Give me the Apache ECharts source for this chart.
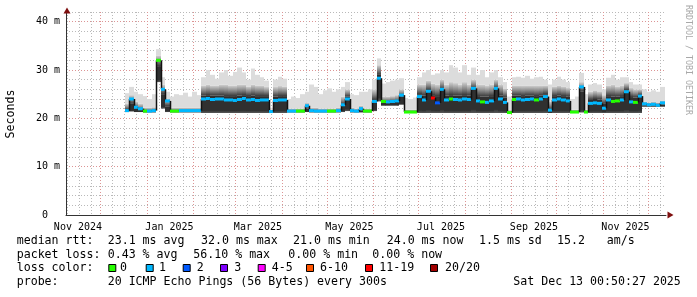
<!DOCTYPE html>
<html><head><meta charset="utf-8">
<script src="https://cdn.jsdelivr.net/npm/echarts@6/dist/echarts.min.js"></script>
<style>html,body{margin:0;padding:0;background:#fff;}#c{width:697px;height:297px;}</style>
</head><body><div id="c"></div>
<script>
// ---- time frame ----
const DAY = 86400000;
const chartEnd = Date.UTC(2025, 11, 13, 0, 50, 27);
const chartStart = chartEnd - 400 * DAY;
const firstBinStart = chartStart + 39 * DAY;   // Dec 17 2024
const binDays = 3;

// ---- tick labels ----
const MONTHS = ['Jan','Feb','Mar','Apr','May','Jun','Jul','Aug','Sep','Oct','Nov','Dec'];
const xLabelMonths = [[2024,10],[2025,0],[2025,2],[2025,4],[2025,6],[2025,8],[2025,10]];
const yMajorTicks = [0, 10, 20, 30, 40];

// ---- data (one value per 3-day bin) ----
const median = [
 21.6,24.0,22.3,22.0,21.5,21.5,21.6,32.0,26.0,23.6,
 21.5,21.5,21.6,21.6,21.6,21.6,21.6,24.0,24.1,23.9,
 24.0,24.0,23.8,23.8,23.7,23.9,24.1,23.8,23.9,23.7,
 23.8,23.8,21.4,23.7,23.8,23.8,21.5,21.5,21.5,21.5,
 22.6,21.6,21.5,21.5,21.5,21.5,21.5,21.6,22.8,24.0,
 21.6,21.5,22.0,21.5,21.5,23.5,28.3,23.5,23.4,23.5,
 23.6,24.8,21.3,21.3,21.3,24.5,23.8,25.6,24.2,23.2,
 26.0,23.8,24.0,23.9,23.8,24.0,23.9,26.2,23.6,23.4,
 23.3,23.6,26.2,24.0,23.3,21.2,23.9,24.0,23.8,23.9,
 24.0,23.8,24.0,24.5,21.7,23.8,24.0,23.8,23.6,21.3,
 21.3,26.5,21.3,23.1,23.2,23.1,22.1,23.8,23.5,23.6,
 23.8,25.5,23.4,23.3,24.6,23.0,22.8,22.9,22.7,23.2];
const lossCount = [
 1,1,1,1,0,1,1,0,1,1,
 0,0,1,1,1,1,1,1,1,1,
 1,1,1,1,1,1,1,1,1,1,
 1,1,1,1,1,1,1,1,0,0,
 1,1,1,1,1,0,0,1,1,1,
 1,1,1,0,0,1,1,0,1,1,
 1,1,0,0,0,1,1,1,12,2,
 1,1,0,1,1,1,1,1,1,0,
 1,1,1,1,1,0,0,1,1,1,
 1,0,1,1,1,1,1,1,1,0,
 0,1,0,1,1,1,1,1,0,0,
 1,1,1,0,1,1,1,1,1,1];
const pingMin = [
 21.3,21.4,21.3,21.3,21.2,21.2,21.2,27.5,22.0,21.3,
 21.2,21.2,21.2,21.2,21.2,21.2,21.2,21.1,21.1,21.1,
 21.1,21.1,21.1,21.1,21.1,21.1,21.1,21.1,21.1,21.1,
 21.1,21.1,21.2,21.1,21.1,21.1,21.2,21.2,21.2,21.2,
 21.3,21.2,21.2,21.2,21.2,21.2,21.2,21.2,21.3,21.5,
 21.2,21.2,21.2,21.2,21.2,21.5,23.5,22.6,22.6,22.6,
 22.6,22.8,21.1,21.1,21.1,21.1,21.1,21.1,21.1,21.1,
 21.1,21.1,21.1,21.1,21.1,21.1,21.1,21.1,21.1,21.1,
 21.1,21.1,21.1,21.1,21.1,21.0,21.1,21.1,21.1,21.1,
 21.1,21.1,21.1,21.1,21.1,21.1,21.1,21.1,21.1,21.1,
 21.1,21.2,21.1,21.1,21.1,21.1,21.1,21.1,21.1,21.1,
 21.1,21.1,21.1,21.1,21.1,22.4,22.4,22.4,22.4,22.4];
const darkTop = [
 21.7,23.0,22.0,21.7,21.4,21.4,21.4,30.8,25.0,22.5,
 21.4,21.4,21.4,21.4,21.4,21.4,21.4,24.7,24.8,24.7,
 24.7,24.7,24.6,24.6,24.6,24.7,24.8,24.6,24.7,24.6,
 24.6,24.6,21.4,24.5,24.6,24.6,21.4,21.4,21.4,21.4,
 22.0,21.4,21.4,21.4,21.4,21.4,21.4,21.4,22.8,24.5,
 21.4,21.4,21.6,21.4,21.4,23.8,29.0,23.2,23.2,23.3,
 23.4,24.5,21.3,21.3,21.3,25.0,24.7,25.8,24.8,24.6,
 26.0,24.7,24.8,24.7,24.7,24.8,24.7,26.2,24.6,24.5,
 24.5,24.6,26.2,24.7,24.3,21.2,24.7,24.7,24.6,24.7,
 24.7,24.6,24.7,25.0,21.8,24.6,24.7,24.6,24.5,21.3,
 21.3,25.5,21.3,23.8,24.0,23.9,23.0,24.6,24.5,24.5,
 24.6,25.8,24.4,24.3,24.8,22.7,22.6,22.7,22.6,22.8];
const fadeTop = [
 23.0,24.8,23.5,23.0,22.2,22.2,22.3,33.0,27.0,24.0,
 22.2,22.2,22.2,22.2,22.2,22.2,22.2,26.8,27.0,26.8,
 26.8,27.0,27.0,26.8,26.8,27.0,27.0,26.6,27.0,26.8,
 26.8,26.5,21.8,26.5,26.7,26.6,22.0,22.0,22.0,22.0,
 23.2,22.2,22.2,22.0,22.0,22.0,22.0,22.2,24.5,26.0,
 22.2,22.0,22.6,22.0,22.0,26.0,31.0,24.5,24.5,24.6,
 24.8,26.0,21.8,21.8,21.8,27.0,27.0,27.8,27.2,27.0,
 28.0,27.0,27.5,27.3,27.0,27.5,27.0,28.0,27.0,27.0,
 26.8,27.0,28.0,27.0,26.2,21.7,26.8,26.8,26.8,26.8,
 26.8,26.8,26.8,26.8,23.5,26.6,26.8,26.6,26.3,21.8,
 21.8,27.5,21.8,25.5,25.8,25.6,24.8,26.8,27.0,26.6,
 26.8,27.3,26.3,26.0,26.0,23.4,23.3,23.4,23.3,23.6];
const pingMax = [
 25.2,26.5,25.5,25.0,24.6,24.0,25.0,34.3,28.5,25.5,
 24.5,25.0,24.8,25.3,24.5,25.5,24.8,28.5,30.0,29.0,
 28.2,29.5,30.0,28.8,29.6,30.5,29.5,28.0,30.3,29.0,
 28.5,27.8,22.2,28.0,28.6,28.2,24.0,24.5,24.2,25.0,
 25.5,27.0,26.5,25.0,25.8,26.2,25.5,26.0,26.5,27.5,
 25.0,24.8,25.5,25.5,26.0,28.0,32.4,27.2,27.5,27.8,
 28.0,28.3,24.2,24.0,24.3,28.5,29.5,30.0,29.0,29.3,
 30.0,29.5,31.0,30.5,29.5,31.0,29.0,30.5,29.0,30.0,
 28.5,29.5,30.0,28.5,27.5,24.5,28.5,28.6,28.4,28.8,
 28.2,28.5,28.6,28.0,27.0,28.0,28.6,28.0,27.5,24.0,
 24.5,29.4,25.0,27.0,27.3,27.0,26.0,28.4,29.0,28.0,
 28.5,28.5,27.5,27.0,27.0,26.0,25.5,25.8,25.5,26.5];

// ---- legend texts ----
const legendRows = [
 [['median rtt:',16.7],['23.1 ms avg',107.7],['32.0 ms max',201],['21.0 ms min',293],['24.0 ms now',386.7],['1.5 ms sd',479],['15.2',557],['am/s',606.7]],
 [['packet loss:',16.7],['0.43 % avg',107.7],['56.10 % max',193.3],['0.00 % min',288.3],['0.00 % now',372.3]],
 [['loss color:',16.7]],
 [['probe:',16.7],['20 ICMP Echo Pings (56 Bytes) every 300s',107.7],['Sat Dec 13 00:50:27 2025',513.3]]
];
const lossLegend = [
 ['0','#26ff00',108.3,120],['1','#00b8ff',145.7,159],['2','#0059ff',182.7,196.7],['3','#7e00ff',220,234.3],
 ['4-5','#ff00ff',257.7,271.7],['6-10','#ff5500',306,320],['11-19','#ff0000',365,379.3],['20/20','#a00000',430,445]
];
function lossColor(n){
  if (n <= 0) return '#26ff00';
  if (n <= 1) return '#00b8ff';
  if (n <= 2) return '#0059ff';
  if (n <= 3) return '#7e00ff';
  if (n <= 5) return '#ff00ff';
  if (n <= 10) return '#ff5500';
  if (n <= 19) return '#ff0000';
  return '#a00000';
}

// ---- axis tick positions ----
const monthStarts = [], minorTicks = [];
for (let y = 2024, m = 9; y < 2026; ) {
  const t = Date.UTC(y, m, 1);
  if (t >= chartStart && t <= chartEnd) monthStarts.push(t);
  [8, 16, 24].forEach(d => { const tt = t + d * DAY; if (tt > chartStart && tt < chartEnd) minorTicks.push(tt); });
  m++; if (m > 11) { m = 0; y++; }
}
const xLabelTicks = xLabelMonths.map(([y, m]) => Date.UTC(y, m, 16));

const binTime = i => firstBinStart + i * binDays * DAY;
const smokeData = median.map((_, i) => [binTime(i), pingMin[i], darkTop[i], fadeTop[i], pingMax[i]]);
const medianData = median.map((v, i) => [binTime(i), v, lossCount[i], i > 0 ? median[i - 1] : v]);

const MONO = '"DejaVu Sans Mono", monospace';
const GRID_MINOR = '#b9b9b9', GRID_MAJOR = '#dc9494';

function renderSmoke(params, api) {
  const t = api.value(0);
  const xa = Math.round(api.coord([t, 0])[0]);
  const xb = Math.round(api.coord([t + binDays * DAY, 0])[0]);
  const w = xb - xa;
  const yMin = api.coord([t, api.value(1)])[1];
  const yDark = api.coord([t, api.value(2)])[1];
  const yFade = api.coord([t, api.value(3)])[1];
  const yMax = api.coord([t, api.value(4)])[1];
  return { type: 'group', children: [
    { type: 'rect', shape: { x: xa, y: yMax, width: w, height: Math.max(0, yFade - yMax) }, style: { fill: '#dcdcdc' } },
    { type: 'rect', shape: { x: xa, y: yFade, width: w, height: Math.max(0, yDark - yFade) },
      style: { fill: new echarts.graphic.LinearGradient(0, 0, 0, 1, [{ offset: 0, color: '#d2d2d2' }, { offset: 0.5, color: '#8a8a8a' }, { offset: 1, color: '#383838' }]) } },
    { type: 'rect', shape: { x: xa, y: yDark, width: w, height: Math.max(0, yMin - yDark) },
      style: { fill: new echarts.graphic.LinearGradient(0, 0, 0, 1, [{ offset: 0, color: '#303030' }, { offset: 0.85, color: '#303030' }, { offset: 1, color: '#5a5a5a' }]) } }
  ]};
}
function renderMedian(params, api) {
  const t = api.value(0);
  const xa = Math.round(api.coord([t, 0])[0]);
  const xb = Math.round(api.coord([t + binDays * DAY, 0])[0]);
  const y = api.coord([t, api.value(1)])[1];
  const yPrev = api.coord([t, api.value(3)])[1];
  return { type: 'group', children: [
    { type: 'line', shape: { x1: xa + 0.5, y1: yPrev, x2: xa + 0.5, y2: y }, style: { stroke: '#111', lineWidth: 1.5 } },
    { type: 'rect', shape: { x: xa, y: y - 1.5, width: xb - xa, height: 3 }, style: { fill: lossColor(api.value(2)) } }
  ]};
}

const graphics = [];
legendRows.forEach((row, r) => {
  const yy = [240.8, 254.5, 268, 281.7][r];
  row.forEach(([txt, x]) => graphics.push({ type: 'text', x: x, y: yy, style: { text: txt, font: '11.6px ' + MONO, fill: '#000', verticalAlign: 'middle', textVerticalAlign: 'middle' } }));
});
lossLegend.forEach(([txt, col, bx, tx]) => {
  graphics.push({ type: 'rect', shape: { x: bx + 0.5, y: 264.5, width: 7, height: 7 }, style: { fill: col, stroke: '#000', lineWidth: 1 } });
  graphics.push({ type: 'text', x: tx, y: 268, style: { text: txt, font: '11.6px ' + MONO, fill: '#000', verticalAlign: 'middle', textVerticalAlign: 'middle' } });
});
graphics.push({ type: 'text', x: 10.5, y: 114, rotation: Math.PI / 2, style: { text: 'Seconds', font: '11.6px ' + MONO, fill: '#000', align: 'center', textAlign: 'center', verticalAlign: 'middle', textVerticalAlign: 'middle' } });
graphics.push({ type: 'text', x: 688, y: 60, rotation: -Math.PI / 2, style: { text: 'RRDTOOL / TOBI OETIKER', font: '8.3px ' + MONO, fill: '#a8a8a8', align: 'center', textAlign: 'center', verticalAlign: 'middle', textVerticalAlign: 'middle' } });
graphics.push({ type: 'polygon', shape: { points: [[63.5, 13.5], [70.5, 13.5], [67, 7.5]] }, style: { fill: '#7f1010' }, z: 100 });
graphics.push({ type: 'polygon', shape: { points: [[667.5, 211.5], [667.5, 218.5], [673.5, 215]] }, style: { fill: '#7f1010' }, z: 100 });

const chart = echarts.init(document.getElementById('c'), null, { renderer: 'canvas' });
chart.setOption({
  animation: false,
  backgroundColor: '#fff',
  grid: { left: 66, top: 12, width: 600, height: 203, containLabel: false, outerBoundsMode: 'none' },
  xAxis: [
    { type: 'value', min: chartStart, max: chartEnd, position: 'bottom',
      axisLine: { show: true, onZero: false, lineStyle: { color: '#333', width: 1 } },
      axisTick: { show: false, customValues: minorTicks }, axisLabel: { show: false },
      splitLine: { show: true, lineStyle: { color: GRID_MINOR, type: [1, 2], width: 1 } } },
    { type: 'value', min: chartStart, max: chartEnd, position: 'bottom',
      axisLine: { show: false }, axisTick: { show: false, customValues: monthStarts }, axisLabel: { show: false },
      splitLine: { show: true, lineStyle: { color: GRID_MAJOR, type: [1, 2], width: 1 } } },
    { type: 'value', min: chartStart, max: chartEnd, position: 'bottom',
      axisLine: { show: false }, axisTick: { show: false, customValues: xLabelTicks },
      axisLabel: { show: true, customValues: xLabelTicks, margin: 7, color: '#000', fontFamily: 'DejaVu Sans Mono', fontSize: 10,
        formatter: v => { const d = new Date(v); return MONTHS[d.getUTCMonth()] + ' ' + d.getUTCFullYear(); } },
      splitLine: { show: false } }
  ],
  yAxis: [
    { type: 'value', min: 0, max: 42, interval: 2, position: 'left',
      axisLine: { show: true, onZero: false, lineStyle: { color: '#333', width: 1 } },
      axisTick: { show: false }, axisLabel: { show: false },
      splitLine: { show: true, lineStyle: { color: GRID_MINOR, type: [1, 2], width: 1 } } },
    { type: 'value', min: 0, max: 42, position: 'left',
      axisLine: { show: false }, axisTick: { show: false, customValues: yMajorTicks },
      axisLabel: { show: true, customValues: yMajorTicks, margin: 6, color: '#000', fontFamily: 'DejaVu Sans Mono', fontSize: 10,
        formatter: v => v === 0 ? '0\u00a0\u00a0' : v + ' m' },
      splitLine: { show: true, lineStyle: { color: GRID_MAJOR, type: [1, 2], width: 1 } } }
  ],
  series: [
    { type: 'custom', name: 'smoke', xAxisIndex: 0, yAxisIndex: 0, clip: true, silent: true,
      renderItem: renderSmoke, data: smokeData, encode: { x: 0, y: [1, 4] }, z: 2 },
    { type: 'custom', name: 'median', xAxisIndex: 0, yAxisIndex: 0, clip: true, silent: true,
      renderItem: renderMedian, data: medianData, encode: { x: 0, y: 1 }, z: 3 }
  ],
  graphic: graphics
});
</script></body></html>
